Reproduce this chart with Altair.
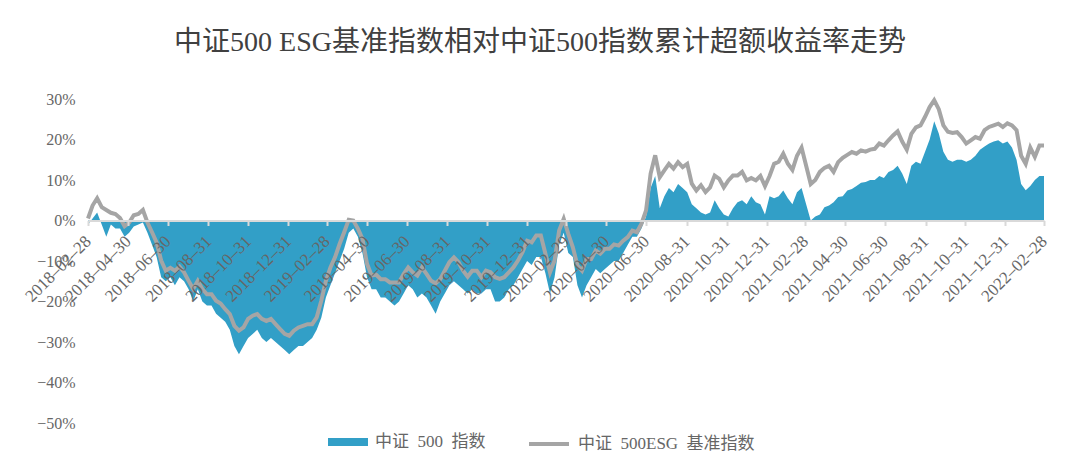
import altair as alt
import pandas as pd

title_text = "中证500 ESG基准指数相对中证500指数累计超额收益率走势"
series_names = ["中证\u2002500\u2002指数", "中证\u2002500ESG\u2002基准指数"]
start_date = "2018-02-28"
end_date = "2022-02-28"

# 中证500 ESG基准指数 cumulative excess return (%), read roughly weekly
esg = [
    0.5, 3.7, 5.5, 3.3, 2.6, 1.9, 1.6, 0.6, -1.4, -0.5,
    1.3, 1.6, 2.6, -0.5, -2.9, -5.4, -9.9, -12.4, -11.7, -12.4,
    -11.4, -12.8, -14.9, -16.9, -14.9, -16.9, -18.2, -18.2, -19.8, -20.5,
    -21.9, -23.1, -26.0, -27.2, -26.4, -24.3, -23.5, -23.1, -24.3, -24.8,
    -24.3, -25.6, -26.8, -28.0, -28.5, -27.2, -26.4, -26.0, -25.6, -25.6,
    -23.9, -19.8, -14.9, -11.6, -9.1, -5.8, -2.9, 0.2, 0.0, -2.0,
    -4.5, -10.7, -13.6, -13.4, -14.5, -14.5, -15.3, -15.3, -15.3, -13.2,
    -11.6, -12.8, -13.6, -11.6, -13.2, -14.9, -15.5, -14.5, -12.4, -10.3,
    -9.1, -10.3, -12.4, -13.9, -12.4, -12.4, -14.0, -12.4, -12.8, -14.0,
    -14.4, -14.0, -12.8, -11.6, -9.9, -7.8, -5.0, -5.4, -3.7, -3.7,
    -8.2, -12.8, -9.9, -2.5, 0.4, -3.3, -6.6, -11.1, -12.4, -9.5,
    -9.5, -7.4, -8.2, -7.0, -7.0, -5.9, -6.2, -5.0, -4.1, -2.5,
    -2.9, -0.8, 2.5, 11.6, 16.1, 10.7, 12.4, 14.0, 12.8, 14.4,
    13.2, 14.0, 9.1, 7.4, 8.7, 7.0, 8.2, 11.1, 10.3, 8.2,
    9.9, 11.1, 11.1, 12.0, 9.9, 10.5, 9.9, 11.0, 8.5, 11.0,
    14.0, 14.5, 16.5, 14.0, 12.5, 16.0, 18.0, 13.5, 9.0, 10.0,
    12.0, 13.0, 13.5, 12.0, 14.4, 15.5, 16.2, 16.9, 16.5, 17.3,
    17.0, 17.5, 17.7, 19.0, 18.5, 19.8, 21.0, 22.0, 19.5, 17.5,
    21.4, 23.0, 23.5, 25.6, 28.0, 29.7, 27.5, 23.5, 21.9, 21.6,
    21.8, 20.6, 19.0, 19.8, 20.6, 20.2, 22.3, 23.1, 23.5, 23.9,
    23.1, 24.0, 23.5, 22.3, 16.0, 14.0, 18.0, 15.7, 18.5, 18.5,
]

# 中证500指数 series (%), same dates
csi500 = [
    -1.0, 0.5, 2.0, -1.0, -4.0, -1.0, -2.0, -2.0, -4.0, -3.0,
    -1.5, -1.0, -0.5, -3.0, -6.0, -9.0, -14.0, -15.0, -14.0, -16.0,
    -14.0, -15.0, -17.0, -20.0, -17.0, -20.0, -21.0, -21.0, -23.0, -24.0,
    -25.0, -27.0, -31.0, -33.0, -31.0, -29.0, -28.0, -27.0, -29.0, -30.0,
    -29.0, -30.0, -31.0, -32.0, -33.0, -32.0, -31.0, -31.0, -30.0, -29.0,
    -27.0, -24.0, -19.0, -16.0, -13.0, -10.0, -7.0, -3.0, -2.0, -4.0,
    -8.0, -14.0, -17.0, -17.0, -19.0, -19.0, -20.0, -21.0, -20.0, -18.0,
    -16.0, -17.0, -19.0, -18.0, -19.0, -21.0, -23.0, -20.0, -18.0, -16.0,
    -15.0, -16.0, -17.0, -18.0, -17.0, -18.0, -18.0, -17.0, -17.0, -20.0,
    -20.0, -19.0, -17.0, -16.0, -14.0, -12.0, -10.0, -11.0, -9.0, -9.0,
    -13.0, -18.0, -14.0, -6.0, -3.0, -8.0, -9.0, -16.0, -19.0, -16.0,
    -14.0, -12.0, -13.0, -12.0, -11.0, -10.0, -10.0, -8.0, -6.0, -4.0,
    -4.0, -2.0, 1.0, 8.0, 11.0, 3.0, 6.0, 8.0, 7.0, 9.0,
    8.0, 7.0, 4.0, 3.0, 2.0, 1.5, 2.0, 5.0, 3.0, 1.5,
    1.0, 3.0, 4.5, 5.0, 4.0, 6.0, 4.5, 4.0, 1.5, 6.0,
    5.5, 6.0, 7.4, 5.5, 4.0, 7.0, 8.0, 4.0, 0.0, 1.0,
    1.5, 3.3, 3.7, 4.5, 5.8, 6.0, 7.4, 7.8, 8.5, 9.3,
    9.5, 10.0, 10.0, 11.0, 10.5, 12.0, 12.5, 13.5, 11.6, 9.0,
    13.5, 14.5, 14.0, 17.0, 20.0, 24.5, 21.5, 17.0, 15.0, 14.5,
    15.0, 15.0, 14.5, 15.0, 16.0, 17.5, 18.3, 19.0, 19.5, 19.8,
    19.0, 19.5, 18.0, 15.0, 9.0, 7.5, 8.5, 10.0, 11.0, 11.0,
]

tick_labels = [
    "2018-02-28", "2018-04-30", "2018-06-30", "2018-08-31", "2018-10-31",
    "2018-12-31", "2019-02-28", "2019-04-30", "2019-06-30", "2019-08-31",
    "2019-10-31", "2019-12-31", "2020-02-29", "2020-04-30", "2020-06-30",
    "2020-08-31", "2020-10-31", "2020-12-31", "2021-02-28", "2021-04-30",
    "2021-06-30", "2021-08-31", "2021-10-31", "2021-12-31", "2022-02-28",
]
y_ticks = [-0.5, -0.4, -0.3, -0.2, -0.1, 0.0, 0.1, 0.2, 0.3]

BLUE = "#329FC7"
GRAY = "#A5A5A5"
TEXT = "#666666"
FONT = "Liberation Serif, Noto Sans CJK SC"

dates = pd.date_range(start_date, end_date, periods=len(esg))
df = pd.DataFrame({
    "date": dates.strftime("%Y-%m-%dT%H:%M:%S"),
    "csi500": [v / 100 for v in csi500],
    "esg": [v / 100 for v in esg],
    "s_area": series_names[0],
    "s_line": series_names[1],
})


def to_dt(s):
    y, m, d = (int(p) for p in s.split("-"))
    return alt.DateTime(year=y, month=m, date=d)


W, H = 956, 324
y_min, y_max = y_ticks[0], y_ticks[-1]
zero_offset = -(H * (0 - y_min) / (y_max - y_min))

x_enc = alt.X(
    "date:T",
    scale=alt.Scale(domain=[to_dt(start_date), to_dt(end_date)], nice=False),
    axis=alt.Axis(
        values=[to_dt(t) for t in tick_labels], format="%Y\u2013%m\u2013%d",
        labelAngle=-45, labelAlign="right", labelBaseline="middle",
        offset=zero_offset, grid=False, domainColor="#D9D9D9", domainWidth=2,
        tickColor="#D9D9D9", tickWidth=2, tickSize=5, labelPadding=13,
        labelFontSize=17, labelColor=TEXT, labelFont=FONT,
        labelOverlap=False, labelBound=False, labelFlush=False,
        zindex=1, title=None,
    ),
)
y_scale = alt.Scale(domain=[y_min, y_max], nice=False, zero=False)
y_axis = alt.Axis(values=y_ticks, format=".0%", domain=False, ticks=False,
                  grid=False, labelFontSize=16, labelColor=TEXT,
                  labelFont=FONT, labelPadding=13, title=None)

area = alt.Chart(df).mark_area(interpolate="linear").encode(
    x=x_enc,
    y=alt.Y("csi500:Q", scale=y_scale, axis=y_axis),
    y2=alt.datum(0),
    fill=alt.Fill("s_area:N", scale=alt.Scale(domain=[series_names[0]], range=[BLUE]),
                  legend=alt.Legend(orient="none", legendX=240, legendY=323,
                                    symbolType="M-1,-0.2H1V0.2H-1Z", symbolSize=1600,
                                    symbolStrokeWidth=0, symbolOpacity=1,
                                    labelFontSize=17, labelColor=TEXT, labelFont=FONT,
                                    labelOffset=7, labelLimit=400, title=None)),
)

line = alt.Chart(df).mark_line(strokeWidth=4, interpolate="linear").encode(
    x=x_enc,
    y=alt.Y("esg:Q", scale=y_scale, axis=y_axis),
    stroke=alt.Stroke("s_line:N", scale=alt.Scale(domain=[series_names[1]], range=[GRAY]),
                      legend=alt.Legend(orient="none", legendX=439, legendY=323,
                                        symbolType="stroke", symbolSize=1600,
                                        symbolStrokeWidth=4,
                                        labelFontSize=17, labelColor=TEXT, labelFont=FONT,
                                        labelOffset=7, labelLimit=400, title=None)),
)

chart = alt.layer(area, line).properties(
    width=W, height=H,
    autosize=alt.AutoSizeParams(type="none"),
    padding={"left": 80, "top": 91, "right": 28, "bottom": 39},
    title=alt.TitleParams(text=title_text, fontSize=28, font=FONT, color="#404040",
                          fontWeight="normal", anchor="middle", frame="group",
                          offset=34, dx=-26),
).configure(background="white").configure_view(stroke="transparent", strokeWidth=0)

chart.save("out.html", embed_options={"renderer": "svg", "actions": False})
